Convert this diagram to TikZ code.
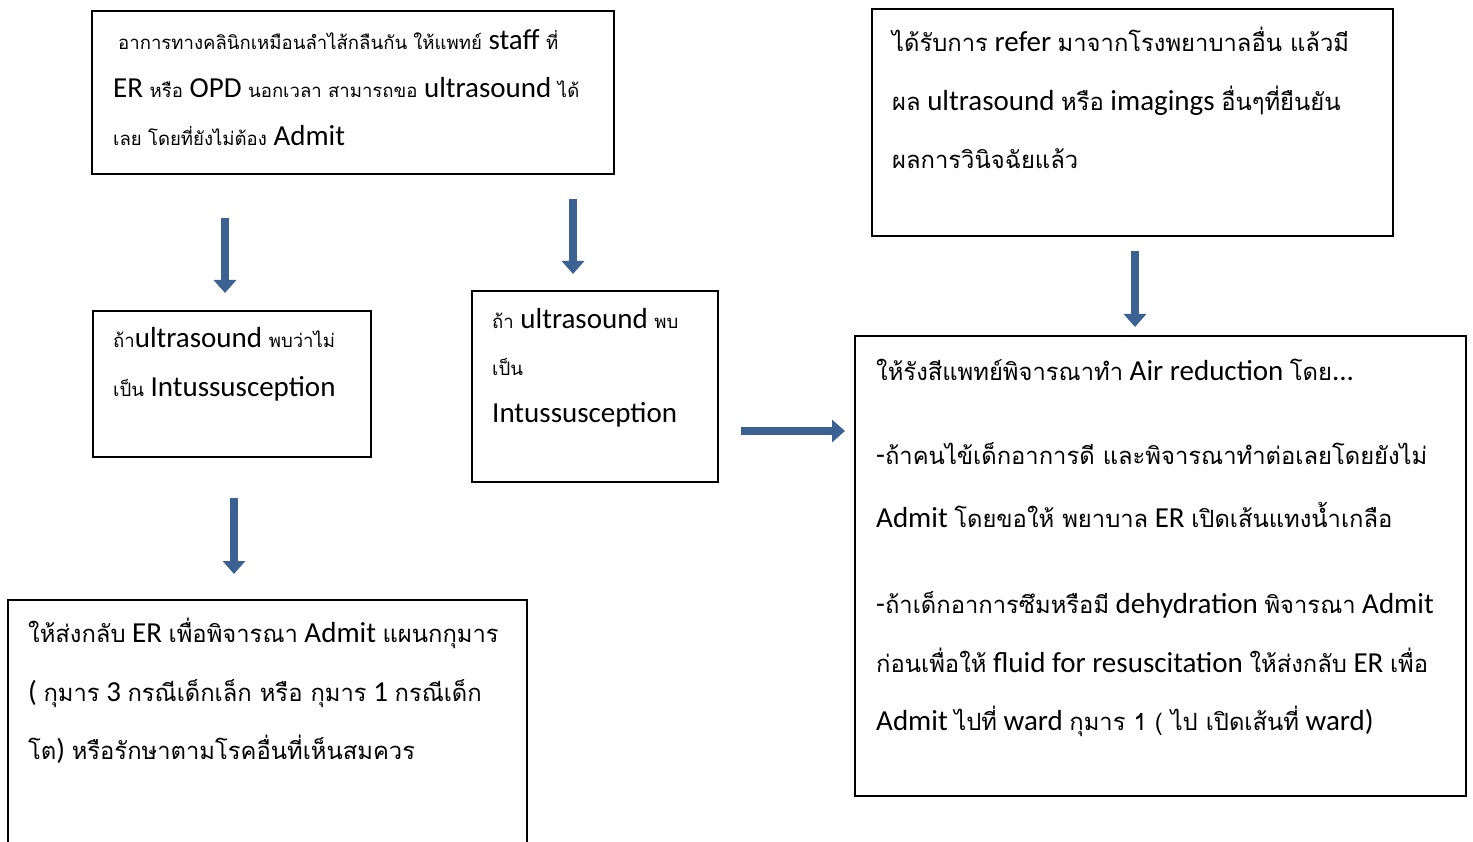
\documentclass[tikz,border=0pt]{standalone}
\usepackage{fontspec}
\setmainfont{Carlito}
\newfontfamily\thaiS[Script=Thai,Scale=0.64]{Loma}
\newfontfamily\thaiL[Script=Thai,Scale=0.82]{Loma}
\usetikzlibrary{arrows.meta}
\definecolor{arrowblue}{HTML}{3B6293}
\newcommand\ts[1]{{\thaiS #1}}
\newcommand\tl[1]{{\thaiL #1}}
\tikzset{
  box/.style={draw=black, line width=1.6pt, anchor=north west, inner sep=0pt},
  txt/.style={anchor=base west, inner sep=0pt, font=\fontsize{29}{29}\selectfont},
  blockarrow/.style={draw=arrowblue, line width=8pt, -{Triangle[width=22pt,length=13pt]}, arrowblue}
}
\begin{document}
\begin{tikzpicture}[x=1pt,y=-1pt]
\useasboundingbox (0,0) rectangle (1473,842);
% boxes
\node[box, minimum width=522pt, minimum height=163pt] (A) at (91,10) {};
\node[box, minimum width=521pt, minimum height=227pt] (B) at (871,8) {};
\node[box, minimum width=278pt, minimum height=146pt] (C) at (92,310) {};
\node[box, minimum width=246pt, minimum height=191pt] (D) at (471,290) {};
\node[box, minimum width=519pt, minimum height=270pt] (E) at (7,599) {};
\node[box, minimum width=611pt, minimum height=460pt] (F) at (854,335) {};
% arrows
\coordinate (a1s) at (225,218); \coordinate (a1e) at (225,293);
\coordinate (a2s) at (573,199); \coordinate (a2e) at (573,274);
\coordinate (a3s) at (234,498); \coordinate (a3e) at (234,574);
\coordinate (a4s) at (741,431); \coordinate (a4e) at (845,431);
\coordinate (a5s) at (1135,251); \coordinate (a5e) at (1135,327);
\draw[blockarrow] (a1s) -- (a1e);
\draw[blockarrow] (a2s) -- (a2e);
\draw[blockarrow] (a3s) -- (a3e);
\draw[blockarrow] (a4s) -- (a4e);
\draw[blockarrow] (a5s) -- (a5e);
% text A
\node[txt] (A1) at (118,50) {\ts{อาการทางคลินิกเหมือนลำไส้กลืนกัน ให้แพทย์} staff \ts{ที่}};
\node[txt] (A2) at (113,98) {ER \ts{หรือ} OPD \ts{นอกเวลา สามารถขอ} ultrasound \ts{ได้}};
\node[txt] (A3) at (113,146) {\ts{เลย โดยที่ยังไม่ต้อง} Admit};
% text B
\node[txt] (B1) at (892,52) {\tl{ได้รับการ} refer \tl{มาจากโรงพยาบาลอื่น แล้วมี}};
\node[txt] (B2) at (892,111) {\tl{ผล} ultrasound \tl{หรือ} imagings \tl{อื่นๆที่ยืนยัน}};
\node[txt] (B3) at (892,169) {\tl{ผลการวินิจฉัยแล้ว}};
% text C
\node[txt] (C1) at (113,348) {\ts{ถ้า}ultrasound \ts{พบว่าไม่}};
\node[txt] (C2) at (113,396) {\ts{เป็น} Intussusception};
% text D
\node[txt] (D1) at (492,329) {\ts{ถ้า} ultrasound \ts{พบ}};
\node[txt] (D2) at (492,376) {\ts{เป็น}};
\node[txt] (D3) at (492,422) {Intussusception};
% text E
\node[txt] (E1) at (28,642) {\tl{ให้ส่งกลับ} ER \tl{เพื่อพิจารณา} Admit \tl{แผนกกุมาร}};
\node[txt] (E2) at (28,701) {( \tl{กุมาร} 3 \tl{กรณีเด็กเล็ก หรือ กุมาร} 1 \tl{กรณีเด็ก}};
\node[txt] (E3) at (28,759) {\tl{โต}) \tl{หรือรักษาตามโรคอื่นที่เห็นสมควร}};
% text F
\node[txt] (F1) at (876,381) {\tl{ให้รังสีแพทย์พิจารณาทำ} Air reduction \tl{โดย}...};
\node[txt] (F2) at (876,464) {-\tl{ถ้าคนไข้เด็กอาการดี และพิจารณาทำต่อเลยโดยยังไม่}};
\node[txt] (F3) at (876,527) {Admit \tl{โดยขอให้ พยาบาล} ER \tl{เปิดเส้นแทงน้ำเกลือ}};
\node[txt] (F4) at (876,613) {-\tl{ถ้าเด็กอาการซึมหรือมี} dehydration \tl{พิจารณา} Admit};
\node[txt] (F5) at (876,672) {\tl{ก่อนเพื่อให้} fluid for resuscitation \tl{ให้ส่งกลับ} ER \tl{เพื่อ}};
\node[txt] (F6) at (876,730) {Admit \tl{ไปที่} ward \tl{กุมาร 1 ( ไป เปิดเส้นที่} ward)};
\end{tikzpicture}
\end{document}
